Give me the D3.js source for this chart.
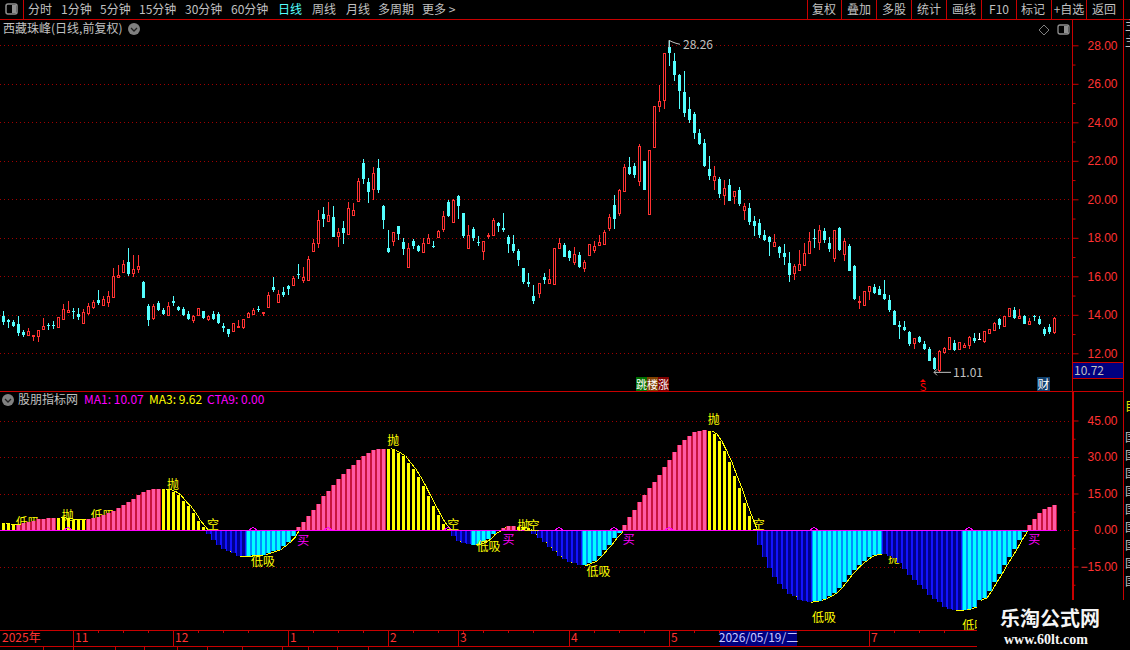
<!DOCTYPE html>
<html>
<head>
<meta charset="utf-8">
<script src="https://cdn.jsdelivr.net/npm/d3@7"></script>
<style>
  html, body { margin: 0; background: #000; overflow: hidden; }
  svg { display: block; }
  text { font-family: "Liberation Sans", "Noto Sans CJK SC", sans-serif; font-size: 12px; }
  .cjk { font-family: "Noto Sans CJK SC", sans-serif; }
  .axis path { display: none; }
  .axis text { fill: #ff3232; font-family: "Liberation Sans", sans-serif; font-size: 12px; }
  .axis line { stroke: #c80000; }
</style>
</head>
<body>
<svg id="chart" width="1130" height="650"></svg>
<script>
// daily candles
const opens = [13.94,13.73,13.63,13.52,13.11,12.95,12.86,12.86,13.23,13.45,13.45,13.33,13.80,14.16,14.20,14.04,13.57,14.11,14.42,14.77,14.53,14.68,14.94,15.93,16.24,16.74,16.19,16.34,15.70,14.46,13.83,14.60,14.27,14.01,14.73,14.41,14.30,14.04,13.75,13.96,14.20,13.78,14.04,14.04,13.42,13.26,13.16,13.38,13.37,13.89,14.04,14.32,14.06,14.41,
  15.44,14.67,15.18,15.50,15.55,16.12,15.83,15.83,17.31,17.70,19.24,18.87,19.08,18.09,18.51,18.20,19.18,19.91,21.89,20.90,20.53,21.63,19.65,17.47,17.83,18.61,17.78,16.48,17.83,17.57,17.28,17.73,17.57,18.04,18.46,19.86,18.82,20.17,19.29,17.47,18.46,17.78,17.31,18.09,18.15,18.77,18.51,18.04,17.68,17.31,16.43,15.70,14.98,15.13,
  15.96,15.65,15.60,17.47,17.63,17.31,16.74,17.11,16.43,17.11,17.37,17.63,17.68,18.51,19.70,19.29,20.43,21.68,21.73,20.95,21.99,19.24,22.72,24.85,25.16,27.91,27.18,26.46,25.57,24.69,24.43,23.44,22.92,21.57,21.00,21.05,20.22,20.74,20.17,20.48,19.44,19.55,18.87,18.77,18.15,18.04,17.57,17.52,
  17.21,16.69,16.17,16.33,16.59,17.21,17.99,17.78,18.35,17.73,16.95,18.51,17.16,17.57,16.53,14.65,14.51,15.24,15.44,15.34,15.08,14.77,14.20,13.47,13.37,13.11,12.54,12.85,12.48,12.22,11.76,11.13,12.05,12.22,12.54,12.22,12.36,12.43,12.80,12.76,12.64,13.05,13.21,13.78,13.42,13.94,14.25,13.83,13.94,13.52,13.94,13.78,13.26,13.37,13.11];
const closes = [13.63,13.61,13.40,13.05,12.93,13.14,12.93,13.19,13.40,13.42,13.42,13.87,14.30,14.25,14.16,13.89,14.13,14.46,14.66,14.61,14.82,14.98,16.02,16.05,16.64,16.12,16.38,16.52,14.89,13.73,14.46,14.25,14.04,14.46,14.63,14.25,13.99,13.78,13.94,14.34,13.83,13.94,13.78,13.57,13.33,13.00,13.56,13.42,13.76,14.08,14.25,14.27,14.13,15.01,
  15.29,15.08,15.03,15.36,15.91,16.07,15.96,16.90,17.73,18.92,18.98,19.18,18.04,18.30,18.25,19.55,19.44,20.95,21.05,20.38,21.37,20.48,18.92,17.26,18.30,18.20,17.42,17.47,17.57,17.31,17.73,17.99,17.52,18.35,19.13,19.13,19.96,19.65,18.09,18.15,17.99,17.73,17.83,18.15,18.92,18.61,18.40,17.68,17.31,16.85,15.70,15.60,14.72,15.65,
  15.81,15.86,17.47,17.73,17.00,16.95,17.16,16.48,16.74,17.68,17.57,17.78,18.30,19.08,18.98,20.48,21.68,21.31,21.26,22.77,20.48,22.56,24.85,25.11,27.60,27.60,26.46,25.63,24.48,24.12,23.44,22.87,21.73,21.21,21.21,20.27,20.59,19.91,20.43,19.76,19.65,18.82,18.61,18.15,17.89,17.78,17.78,17.21,
  17.00,16.07,16.54,16.64,17.21,17.83,17.94,18.40,17.89,17.42,18.40,17.37,17.83,16.27,14.82,14.72,15.24,15.50,15.13,15.03,14.82,14.25,13.47,13.37,13.21,12.48,12.80,12.59,12.22,11.60,11.18,12.12,12.27,12.85,12.17,12.59,12.45,12.85,12.64,12.76,13.16,13.24,13.57,13.47,13.94,14.35,13.83,13.94,13.52,13.68,13.89,13.52,13.00,13.11,13.83];
const highs = [14.20,13.80,13.73,13.94,13.21,13.30,12.95,13.19,13.83,13.56,13.68,13.89,14.56,14.72,14.34,14.35,14.30,14.60,14.77,15.29,14.96,15.24,16.43,16.59,16.85,17.47,17.11,17.11,15.74,14.54,14.54,14.72,14.35,14.66,14.98,14.46,14.41,14.20,13.99,14.35,14.22,13.99,14.20,14.15,13.57,13.26,13.57,13.73,13.78,14.15,14.35,14.46,14.15,15.18,
  15.96,15.29,15.44,15.55,16.02,16.64,16.48,17.05,17.94,19.44,19.60,19.86,19.65,18.51,18.87,19.86,19.81,21.11,22.09,21.11,21.68,22.09,19.70,18.40,18.30,18.61,17.99,17.73,17.94,17.63,17.99,18.20,17.83,18.40,19.39,19.96,20.02,20.22,19.29,18.67,18.56,18.09,17.83,18.25,19.03,18.82,19.29,18.15,18.15,17.42,16.43,16.17,15.55,15.65,
  16.17,16.38,17.47,17.99,17.73,17.37,17.52,17.26,16.85,17.68,17.83,18.15,18.40,19.24,20.22,20.53,21.83,22.20,21.89,22.87,21.99,22.56,24.85,25.94,27.60,28.26,27.60,26.51,26.67,25.31,24.54,23.65,23.13,22.25,21.73,21.16,21.00,21.05,20.43,20.64,19.81,19.81,19.13,18.98,18.40,18.09,18.20,17.57,
  17.68,17.26,16.64,17.37,17.73,18.30,18.46,18.66,18.51,18.04,18.40,18.56,17.99,17.68,16.59,14.98,15.24,15.50,15.60,15.50,15.81,15.03,14.25,13.68,13.68,13.16,12.80,12.90,12.64,12.33,11.81,12.17,12.33,12.85,12.69,12.59,12.54,12.90,13.05,13.05,13.16,13.24,13.63,13.83,13.94,14.35,14.41,14.30,13.99,13.83,13.99,13.94,13.37,13.52,13.89];
const lows = [13.49,13.31,13.35,12.90,12.83,12.93,12.64,12.60,13.21,13.21,13.26,13.33,13.78,14.15,13.78,13.73,13.54,14.01,14.30,14.53,14.51,14.41,14.93,15.91,16.22,16.02,15.98,16.17,14.87,13.42,13.73,14.20,13.99,13.99,14.46,14.20,13.94,13.73,13.57,13.94,13.78,13.68,13.73,13.52,13.11,12.85,13.12,13.37,13.26,13.87,13.99,14.15,13.94,14.35,
  15.18,14.61,14.92,15.03,15.50,15.86,15.65,15.81,17.28,17.47,18.56,18.87,18.04,17.52,17.68,18.15,19.18,19.86,20.79,19.81,19.96,20.33,18.46,17.21,17.57,17.89,17.11,16.48,17.42,17.26,17.26,17.68,17.47,17.99,18.30,19.08,18.82,18.98,17.99,17.47,17.83,17.57,16.85,17.94,18.09,18.30,18.30,17.21,17.21,16.54,15.60,15.44,14.56,14.87,
  15.60,15.60,15.60,17.42,17.00,16.79,16.59,16.43,16.22,17.11,17.21,17.57,17.68,18.35,18.46,19.13,20.43,21.26,21.11,20.69,20.48,19.24,22.72,24.54,24.69,26.92,26.15,24.69,24.28,23.96,23.13,22.82,21.68,21.00,20.48,20.07,19.70,19.91,19.76,19.65,18.92,18.66,18.09,17.99,17.83,17.05,17.52,16.95,
  16.59,15.70,15.81,16.33,16.59,17.21,17.47,17.37,17.73,17.26,16.74,17.31,16.79,16.27,14.77,14.30,14.51,14.77,15.08,15.01,14.77,14.15,13.45,12.74,13.16,12.38,12.22,12.54,12.17,11.60,11.13,11.01,11.96,12.22,12.12,12.17,12.27,12.22,12.54,12.76,12.54,13.05,13.21,13.26,13.37,13.94,13.78,13.78,13.52,13.47,13.68,13.47,12.90,13.00,13.00];

// indicator bars
const indicator = [2.87,2.33,2.05,2.19,2.87,3.15,3.83,4.38,4.51,5.06,5.06,5.06,4.92,4.65,4.24,4.24,4.24,4.38,4.92,5.47,6.02,6.98,7.93,9.17,10.26,11.63,12.86,14.50,15.73,16.42,16.83,16.96,16.83,16.55,15.73,14.36,11.76,9.71,6.98,3.56,1.23,-1.50,-3.97,-6.02,-7.66,-8.76,-9.44,-10.81,-10.81,-10.81,-10.40,-10.40,-10.13,-9.44,-8.76,-8.07,-6.43,-4.79,-2.60,1.37,3.42,5.88,8.34,10.81,13.82,16.14,18.60,21.07,23.12,25.17,
  26.81,28.86,30.51,31.60,32.83,33.38,33.38,33.38,32.69,31.60,30.23,27.50,25.03,21.61,17.92,13.82,9.99,6.02,2.60,0.41,-2.60,-4.65,-5.34,-5.75,-6.02,-5.75,-5.06,-3.69,-1.50,-0.27,0.96,1.78,1.78,1.23,0.96,0.27,-1.64,-3.28,-5.06,-7.11,-8.76,-10.81,-11.90,-13.27,-13.54,-14.23,-14.50,-13.54,-12.86,-10.81,-8.34,-6.02,-3.42,-1.23,2.19,5.47,8.34,11.63,14.50,17.37,19.84,22.71,25.99,28.86,32.15,35.02,37.07,38.71,40.36,40.77,
  41.18,40.77,39.40,36.39,32.28,27.77,22.30,17.10,11.08,5.61,0.41,-6.29,-11.08,-15.60,-19.43,-22.16,-24.21,-26.27,-27.22,-28.59,-29.00,-29.69,-29.27,-29.00,-28.18,-27.22,-25.85,-23.80,-21.34,-18.60,-16.28,-14.23,-12.59,-11.08,-10.26,-9.85,-9.85,-10.53,-11.63,-13.54,-16.01,-18.47,-20.38,-22.57,-24.21,-26.54,-28.32,-29.55,-31.60,-32.42,-32.97,-32.97,-32.69,-32.42,-31.60,-28.59,-27.91,-24.90,-21.48,-18.19,-14.50,-11.22,-7.93,-4.10,-0.96,2.19,4.65,7.11,8.76,9.58,10.40];
// [last bar of the phase, colour group]
const phases = [[2,"yellow"],[10,"pink"],[16,"yellow"],[31,"pink"],[40,"yellow"],[48,"blue"],[58,"cyan"],[76,"pink"],[89,"yellow"],[93,"blue"],[99,"cyan"],[102,"pink"],[105,"yellow"],[115,"blue"],[123,"cyan"],[140,"pink"],[150,"yellow"],[161,"blue"],[175,"cyan"],[191,"blue"],[204,"cyan"],[210,"pink"]];

const priceTicks = [12,14,16,18,20,22,24,26,28];
const indicatorTicks = [-15,0,15,30,45];
const monthLabels = ["11","12","1","2","3","4","5","7"];
const monthBars = [14,34,57,77,91,113,133,173];

// small signal marks on the indicator: [text, bar, value]
const behindBars = [["低吸",5,3.4],["低吸",20,6.2],["抛",178,-11.4]];
const sellMarks = [["抛",13,6.3],["抛",34,19],["抛",78,37],["抛",104,2.2],["抛",142,45.7]];
const lowMarks = [["低吸",52,-12.6],["低吸",97,-6.4],["低吸",119,-16.7],["低吸",164,-35.6],["低吸",194,-39]];
const emptyMarks = [["空",42,2.6],["空",90,2.6],["空",106,2.2],["空",151,2.6]];
const buyMarks = [["买",60,-4],["买",101,-3.6],["买",125,-3.6],["买",206,-3.6]];
const bumpBars = [13,50,65,89,111,122,133,162,193];

const red = "#ff3232", lineRed = "#c80000", gridRed = "#a00000", gray = "#c0c0c0";
const svg = d3.select("#chart");

const bars = d3.range(closes.length);
const x = d3.scaleLinear().domain([0, 210]).range([2.67, 1054.3]);
const X = i => Math.round(x(i));
const yPrice = d3.scaleLinear().domain([28, 12]).range([45.3, 353.3]);
const yInd = d3.scaleLinear().domain([45, -15]).range([420.5, 566.5]);

function txt(g, s, px, py, color, anchor, size) {
  return g.append("text").attr("class", "cjk").attr("x", px).attr("y", py)
    .attr("fill", color).attr("text-anchor", anchor || "start")
    .attr("font-size", size || 12).style("font-size", (size || 12) + "px").text(s);
}

// grid
const grid = svg.append("g");
function dotted(ticks, scale) {
  grid.selectAll(null).data(ticks).enter().append("line")
    .attr("x1", 0).attr("x2", 1072)
    .attr("y1", d => Math.round(scale(d)) + 0.5).attr("y2", d => Math.round(scale(d)) + 0.5)
    .attr("stroke", gridRed).attr("stroke-dasharray", "1 3");
}
dotted(priceTicks, yPrice);
dotted(indicatorTicks, yInd);

// candles
const candles = svg.append("g").attr("shape-rendering", "crispEdges");
const colorOf = i => closes[i] > opens[i] ? red : closes[i] < opens[i] ? "#54ffff" : "#ffffff";
candles.selectAll("line").data(bars).enter().append("line")
  .attr("x1", i => X(i) + 0.5).attr("x2", i => X(i) + 0.5)
  .attr("y1", i => yPrice(highs[i])).attr("y2", i => yPrice(lows[i]))
  .attr("stroke", colorOf);
candles.selectAll("rect").data(bars).enter().append("rect")
  .attr("x", i => closes[i] > opens[i] ? X(i) - 0.5 : X(i) - 1)
  .attr("width", i => closes[i] > opens[i] ? 2 : 3)
  .attr("y", i => Math.round(yPrice(Math.max(opens[i], closes[i]))) + (closes[i] > opens[i] ? 0.5 : 0))
  .attr("height", i => Math.max(1, Math.round(yPrice(Math.min(opens[i], closes[i])) - yPrice(Math.max(opens[i], closes[i])))))
  .attr("fill", i => closes[i] > opens[i] ? "#000" : colorOf(i))
  .attr("stroke", i => closes[i] > opens[i] ? red : "none");

// high and low notes on the price pane
const notes = svg.append("g");
const hi = d3.maxIndex(highs), lo = d3.minIndex(lows);
notes.append("path").attr("fill", "none").attr("stroke", gray)
  .attr("d", `M${X(hi)},${yPrice(highs[hi]) + 8}V${yPrice(highs[hi])}l3,1.5l4,1.5l4,1`);
txt(notes, d3.format(".2f")(highs[hi]), X(hi) + 14, yPrice(highs[hi]) + 9, gray);
notes.append("path").attr("fill", "none").attr("stroke", gray)
  .attr("d", `M${X(lo) + 12},${yPrice(lows[lo])}H${X(lo) - 5}m3,-3l-3,3l3,3`);
txt(notes, d3.format(".2f")(lows[lo]), X(lo) + 14, yPrice(lows[lo]) + 5, gray);

// signal chips along the bottom of the price pane
[["跳", 636, "#007000"], ["楼", 647, "#804000"], ["涨", 658, "#800000"]].forEach(d => {
  notes.append("rect").attr("x", d[1]).attr("y", 377).attr("width", 11).attr("height", 14).attr("fill", d[2]);
  txt(notes, d[0], d[1] + 5.5, 388.5, "#fff", "middle", 11);
});
notes.append("rect").attr("x", 1037).attr("y", 377).attr("width", 13).attr("height", 14).attr("fill", "#10406e");
txt(notes, "财", 1043.5, 388.5, "#fff", "middle", 12);
notes.append("path").attr("fill", "#ff0000").attr("d", "M923,379l3,3h-6z");
txt(notes, "S", 923, 391, "#ff0000", "middle", 11);

// indicator pane
const ind = svg.append("g");
const kindOf = bars.map(i => phases.find(p => i <= p[0])[1]);
const styles = {
  pink: ["#c8143c", "#ff5aa5"],
  yellow: ["#000000", "#ffff00"],
  blue: ["#1414ff", "#00008c"],
  cyan: ["#0090ff", "#00ffff"]
};

behindBars.forEach(d => txt(ind, d[0], x(d[1]), yInd(d[2]) + 5, "#ffff00", "middle"));

// the curve runs through the bars' right edges and only shows outside the rising pink runs
const curve = d3.line().x(i => X(i) + 3).y(i => yInd(indicator[i]));
let from = 0;
phases.forEach((p, k) => {
  if (p[1] === "pink") { from = p[0] + 1; return; }
  const next = phases[k + 1];
  if (next && next[1] !== "pink") return;
  ind.append("path").attr("d", curve(d3.range(from, Math.min(p[0] + 2, bars.length))))
    .attr("fill", "none").attr("stroke", "#ffff00").attr("shape-rendering", "crispEdges");
});

const sticks = ind.append("g").attr("shape-rendering", "crispEdges");
[[0, 5, -2], [1, 3, -1]].forEach(([layer, w, dx]) => {
  sticks.append("g").selectAll("rect").data(bars).enter().append("rect")
    .attr("x", i => X(i) + dx)
    .attr("width", w)
    .attr("y", i => Math.round(Math.min(yInd(indicator[i]), yInd(0))))
    .attr("height", i => Math.round(Math.abs(yInd(indicator[i]) - yInd(0))))
    .attr("fill", i => styles[kindOf[i]][layer]);
});

ind.append("line").attr("x1", 0).attr("x2", X(210) + 3)
  .attr("y1", Math.round(yInd(0)) + 0.5).attr("y2", Math.round(yInd(0)) + 0.5)
  .attr("stroke", "#ff00ff");
ind.selectAll("path.bump").data(bumpBars).enter().append("path").attr("class", "bump")
  .attr("fill", "none").attr("stroke", "#ff00ff").attr("shape-rendering", "crispEdges")
  .attr("d", i => `M${X(i) - 4},${yInd(0)}L${X(i)},${yInd(0) - 2.5}L${X(i) + 4},${yInd(0)}`);

sellMarks.concat(lowMarks, emptyMarks).forEach(d => txt(ind, d[0], x(d[1]), yInd(d[2]) + 5, "#ffff00", "middle"));
buyMarks.forEach(d => txt(ind, d[0], x(d[1]), yInd(d[2]) + 5, "#ff00ff", "middle"));

// frame
const frame = svg.append("g").attr("shape-rendering", "crispEdges").attr("stroke", lineRed);
[[0, 1130, 19.5, 19.5], [0, 1123, 391.5, 391.5], [0, 977, 630.5, 630.5], [0, 977, 646.5, 646.5],
 [1073, 1123, 378.5, 378.5], [1073, 1123, 362.5, 362.5],
 [1072.5, 1072.5, 19, 600], [1123.5, 1123.5, 0, 600], [23.5, 23.5, 0, 19]].forEach(d => {
  frame.append("line").attr("x1", d[0]).attr("x2", d[1]).attr("y1", d[2]).attr("y2", d[3]);
});
[807.5, 841.5, 876.5, 911.5, 946.5, 981.5, 1016.5, 1051.5, 1086.5].forEach(v => {
  frame.append("line").attr("x1", v).attr("x2", v).attr("y1", 0).attr("y2", 19);
});
frame.append("line").attr("x1", 1073.5).attr("x2", 1073.5).attr("y1", 392).attr("y2", 600);

// right axes
const axisP = svg.append("g").attr("class", "axis").attr("transform", "translate(1072.5,0)")
  .call(d3.axisRight(yPrice).tickValues(priceTicks).tickSize(6).tickFormat(d3.format(".2f")));
const axisI = svg.append("g").attr("class", "axis").attr("transform", "translate(1072.5,0)")
  .call(d3.axisRight(yInd).tickValues(indicatorTicks).tickSize(6).tickFormat(d3.format(".2f")));
[axisP, axisI].forEach(a => a.selectAll("text").attr("x", 45).attr("text-anchor", "end"));
svg.append("g").attr("class", "axis").attr("transform", "translate(1072.5,0)")
  .call(d3.axisRight(yPrice).tickValues(d3.range(13, 29, 2)).tickSize(3).tickFormat(""));
svg.append("g").attr("class", "axis").attr("transform", "translate(1072.5,0)")
  .call(d3.axisRight(yInd).tickValues([-22.5, -7.5, 7.5, 22.5, 37.5]).tickSize(3).tickFormat(""));

// latest value box
svg.append("rect").attr("x", 1073).attr("y", 363).attr("width", 50).attr("height", 15).attr("fill", "#000080");
txt(svg, "10.72", 1074, 375, gray);

// time axis
const tAxis = svg.append("g");
tAxis.selectAll("line.month").data(monthBars).enter().append("line").attr("class", "month")
  .attr("x1", i => X(i) + 0.5).attr("x2", i => X(i) + 0.5).attr("y1", 630).attr("y2", 646)
  .attr("stroke", lineRed).attr("shape-rendering", "crispEdges");
tAxis.selectAll("line.minor").data(monthBars.flatMap(i => [5, 10, 15].map(k => i + k)))
  .enter().append("line").attr("class", "minor")
  .attr("x1", i => X(i) + 0.5).attr("x2", i => X(i) + 0.5).attr("y1", 630).attr("y2", 633)
  .filter(i => i > 206).remove();
tAxis.selectAll("line.minor").attr("stroke", lineRed).attr("shape-rendering", "crispEdges");
monthLabels.forEach((m, k) => txt(tAxis, m, X(monthBars[k]) + 2, 642, red));
txt(tAxis, "2025年", 2, 642, red);
[43, 73, 115, 144, 177, 207, 242, 282, 308, 337, 368].forEach(v => {
  tAxis.append("line").attr("x1", v + 0.5).attr("x2", v + 0.5).attr("y1", 647).attr("y2", 650)
    .attr("stroke", lineRed).attr("shape-rendering", "crispEdges");
});
tAxis.append("rect").attr("x", 720).attr("y", 631).attr("width", 77).attr("height", 15)
  .attr("fill", "#000080");
txt(tAxis, "2026/05/19/二", 758.5, 642, "#c8c8ff", "middle");

// toolbar
const bar = svg.append("g");
[["分时", 28], ["1分钟", 61], ["5分钟", 100], ["15分钟", 139], ["30分钟", 185], ["60分钟", 231],
 ["日线", 278, "#54ffff"], ["周线", 312], ["月线", 346], ["多周期", 378], ["更多 >", 422]].forEach(d => {
  txt(bar, d[0], d[1], 14, d[2] || gray);
});
[["复权", 824], ["叠加", 859], ["多股", 894], ["统计", 929], ["画线", 964], ["F10", 999], ["标记", 1033], ["+自选", 1069], ["返回", 1104]].forEach(d => {
  txt(bar, d[0], d[1], 14, gray, "middle");
});
bar.append("rect").attr("x", 6).attr("y", 4).attr("width", 11).attr("height", 10).attr("rx", 2)
  .attr("fill", "none").attr("stroke", "#909090").attr("stroke-width", 1.5);
bar.append("rect").attr("x", 12).attr("y", 5).attr("width", 4).attr("height", 8).attr("fill", "#909090");

txt(bar, "西藏珠峰(日线,前复权)", 3, 33, gray);
const chevron = (cx, cy) => {
  bar.append("circle").attr("cx", cx).attr("cy", cy).attr("r", 6).attr("fill", "#808080");
  bar.append("path").attr("d", `M${cx - 3},${cy - 1}l3,3l3,-3`).attr("fill", "none").attr("stroke", "#202020").attr("stroke-width", 1.3);
};
chevron(134, 29);
bar.append("path").attr("d", "M1044,25l5,5l-5,5l-5,-5z").attr("fill", "none").attr("stroke", "#808080");
bar.append("rect").attr("x", 1058).attr("y", 25).attr("width", 11).attr("height", 9).attr("rx", 2)
  .attr("fill", "none").attr("stroke", "#909090").attr("stroke-width", 1.3);
bar.append("rect").attr("x", 1064).attr("y", 26).attr("width", 4).attr("height", 7).attr("fill", "#909090");

// indicator legend
chevron(8, 400);
txt(bar, "股朋指标网", 18, 404, gray);
txt(bar, "MA1: 10.07", 84, 404, "#ff00ff");
txt(bar, "MA3: 9.62", 149, 404, "#ffff00");
txt(bar, "CTA9: 0.00", 207, 404, "#ff00ff");

// side strip, cut off by the window
[[30, "主"], [46, "主"], [442, "国"], [460, "国"], [478, "国"], [496, "国"], [514, "国"], [532, "国"], [550, "国"], [568, "国"], [586, "国"]].forEach(d => {
  txt(bar, d[1], 1125, d[0], gray);
});
txt(bar, "目", 1125, 411, "#e0e000");

// watermark
svg.append("rect").attr("x", 977).attr("y", 601).attr("width", 153).attr("height", 49).attr("fill", "#000");
txt(svg, "乐淘公式网", 1050, 626, "#f5f5f5", "middle", 20).attr("font-weight", 700).style("font-weight", 700);
svg.append("text").attr("x", 1046).attr("y", 644).attr("text-anchor", "middle").attr("fill", "#f5f5f5")
  .style("font-family", '"Liberation Serif", serif').style("font-size", "14px").style("font-weight", 700)
  .text("www.60lt.com");
</script>
</body>
</html>
